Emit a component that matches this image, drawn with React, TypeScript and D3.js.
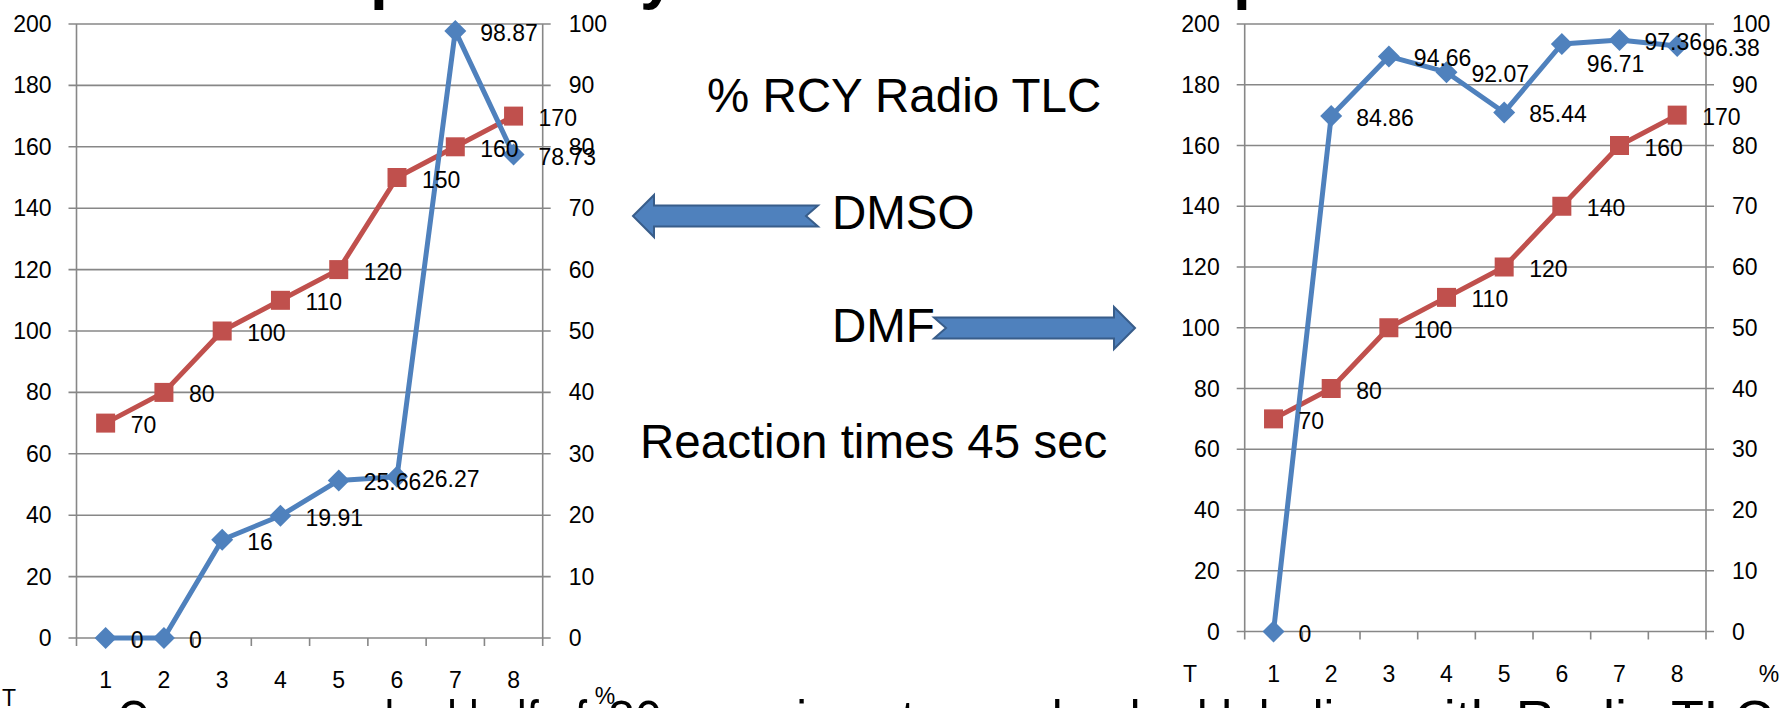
import React from 'react';
import * as d3 from 'd3';

// ---------- data ----------
const categories = [1, 2, 3, 4, 5, 6, 7, 8];
const leftTicks = [0, 20, 40, 60, 80, 100, 120, 140, 160, 180, 200];
const rightTicks = [0, 10, 20, 30, 40, 50, 60, 70, 80, 90, 100];
const dmsoTemp = [70, 80, 100, 110, 120, 150, 160, 170];
const dmsoRcy = [0, 0, 16, 19.91, 25.66, 26.27, 98.87, 78.73];
const dmfTemp = [70, 80, 100, 110, 120, 140, 160, 170];
const dmfRcy = [0, 84.86, 94.66, 92.07, 85.44, 96.71, 97.36, 96.38];

const RED = '#C0504D';
const BLUE = '#4F81BD';
const GRID = '#878787';
const FONT = '"Liberation Sans", Arial, sans-serif';
const FS = 23;

type ChartProps = {
  x0: number; x1: number; yTop: number; yBottom: number;
  temp: number[]; rcy: number[]; rcyDy?: number[];
  tPos: [number, number]; pPos: [number, number];
};

function Chart({ x0, x1, yTop, yBottom, temp, rcy, rcyDy, tPos, pPos }: ChartProps) {
  const x = d3.scaleBand<number>().domain(categories).range([x0, x1]);
  const yL = d3.scaleLinear().domain([0, 200]).range([yBottom, yTop]);
  const yR = d3.scaleLinear().domain([0, 100]).range([yBottom, yTop]);
  const cx = (i: number) => (x(categories[i]) as number) + x.bandwidth() / 2;
  const lineL = d3.line<number>().x((_, i) => cx(i)).y((d) => yL(d));
  const lineR = d3.line<number>().x((_, i) => cx(i)).y((d) => yR(d));
  const boundaries = categories.map((c) => x(c) as number).concat([x1]);
  return (
    <g>
      {leftTicks.map((t) => (
        <line key={'g' + t} x1={x0 - 8} x2={x1 + 8} y1={yL(t)} y2={yL(t)} stroke={GRID} strokeWidth={1.6} />
      ))}
      <line x1={x0} x2={x0} y1={yTop} y2={yBottom} stroke={GRID} strokeWidth={1.6} />
      <line x1={x1} x2={x1} y1={yTop} y2={yBottom} stroke={GRID} strokeWidth={1.6} />
      {boundaries.map((b, i) => (
        <line key={'b' + i} x1={b} x2={b} y1={yBottom} y2={yBottom + 8} stroke={GRID} strokeWidth={1.6} />
      ))}
      {leftTicks.map((t) => (
        <text key={'l' + t} x={x0 - 25} y={yL(t) + 8} textAnchor="end" fontSize={FS} fontFamily={FONT} fill="#000">{t}</text>
      ))}
      {rightTicks.map((t) => (
        <text key={'r' + t} x={x1 + 26} y={yR(t) + 8} textAnchor="start" fontSize={FS} fontFamily={FONT} fill="#000">{t}</text>
      ))}
      {categories.map((c, i) => (
        <text key={'x' + c} x={cx(i)} y={yBottom + 50} textAnchor="middle" fontSize={FS} fontFamily={FONT} fill="#000">{c}</text>
      ))}
      <text x={tPos[0]} y={tPos[1]} textAnchor="middle" fontSize={FS} fontFamily={FONT} fill="#000">T</text>
      <text x={pPos[0]} y={pPos[1]} textAnchor="middle" fontSize={FS} fontFamily={FONT} fill="#000">%</text>

      <path d={lineL(temp) || ''} fill="none" stroke={RED} strokeWidth={5} strokeLinejoin="round" />
      {temp.map((v, i) => (
        <rect key={'s' + i} x={cx(i) - 9.5} y={yL(v) - 9.5} width={19} height={19} fill={RED} />
      ))}
      <path d={lineR(rcy) || ''} fill="none" stroke={BLUE} strokeWidth={5} strokeLinejoin="round" />
      {rcy.map((v, i) => (
        <path key={'d' + i} d={`M${cx(i)},${yR(v) - 11}l11,11l-11,11l-11,-11z`} fill={BLUE} />
      ))}
      {temp.map((v, i) => (
        <text key={'tl' + i} x={cx(i) + 25} y={yL(v) + 10} fontSize={FS} fontFamily={FONT} fill="#000">{v}</text>
      ))}
      {rcy.map((v, i) => (
        <text key={'rl' + i} x={cx(i) + 25} y={yR(v) + 10 + (rcyDy ? rcyDy[i] : 0)} fontSize={FS} fontFamily={FONT} fill="#000">{v}</text>
      ))}
    </g>
  );
}

function Arrow({ tip, base, tail, cy, dir }: { tip: number; base: number; tail: number; cy: number; dir: number }) {
  const sh = 10.5, hh = 21, notch = 12;
  const d = [
    `M${tip},${cy}`,
    `L${base},${cy - hh}`,
    `L${base},${cy - sh}`,
    `L${tail},${cy - sh}`,
    `L${tail + dir * notch},${cy}`,
    `L${tail},${cy + sh}`,
    `L${base},${cy + sh}`,
    `L${base},${cy + hh}`,
    'Z',
  ].join(' ');
  return <path d={d} fill={BLUE} stroke="#385D8A" strokeWidth={2} strokeLinejoin="miter" />;
}

export default function App() {
  const big = { fontFamily: FONT, fontSize: 47.5, fill: '#000' };
  return (
    <div style={{ position: 'absolute', left: 0, top: 0 }}>
      <svg width={1782} height={708} style={{ display: 'block', background: '#fff' }}>
        <rect width={1782} height={708} fill="#fff" />
        {/* clipped slide title: only descenders visible */}
        <g fontFamily={FONT} fontSize={64} fontWeight="bold" fill="#000">
          <text x={370} y={-3.5}>p</text>
          <text x={640} y={-3.5}>y</text>
          <text x={1233} y={-3.5}>p</text>
        </g>

        <Chart x0={76.5} x1={542.7} yTop={24} yBottom={638} temp={dmsoTemp} rcy={dmsoRcy}
          tPos={[9, 706]} pPos={[605, 704]} />
        <Chart x0={1244.7} x1={1706} yTop={24} yBottom={631.5} temp={dmfTemp} rcy={dmfRcy}
          rcyDy={[0, 0, 0, 0, 0, 18, 0, 0]} tPos={[1190, 682]} pPos={[1769, 682]} />

        <text x={707} y={112} {...big}>% RCY Radio TLC</text>
        <text x={832} y={228.5} {...big}>DMSO</text>
        <text x={832} y={342} {...big}>DMF</text>
        <text x={640} y={457.5} {...big}>Reaction times 45 sec</text>

        <Arrow tip={633} base={654} tail={818} cy={216} dir={-1} />
        <Arrow tip={1135} base={1114} tail={934} cy={328} dir={1} />

        {/* clipped body text at the bottom of the slide */}
        <g fontFamily={FONT} fontSize={54} fill="#000">
          <text x={117} y={738} textLength={470} lengthAdjust="spacingAndGlyphs">Once we reached half of</text>
          <text x={608} y={738} textLength={780} lengthAdjust="spacingAndGlyphs">80 experiments we checked labeling</text>
          <text x={1773} y={738} textAnchor="end">with Radio TLC</text>
        </g>
      </svg>
    </div>
  );
}
